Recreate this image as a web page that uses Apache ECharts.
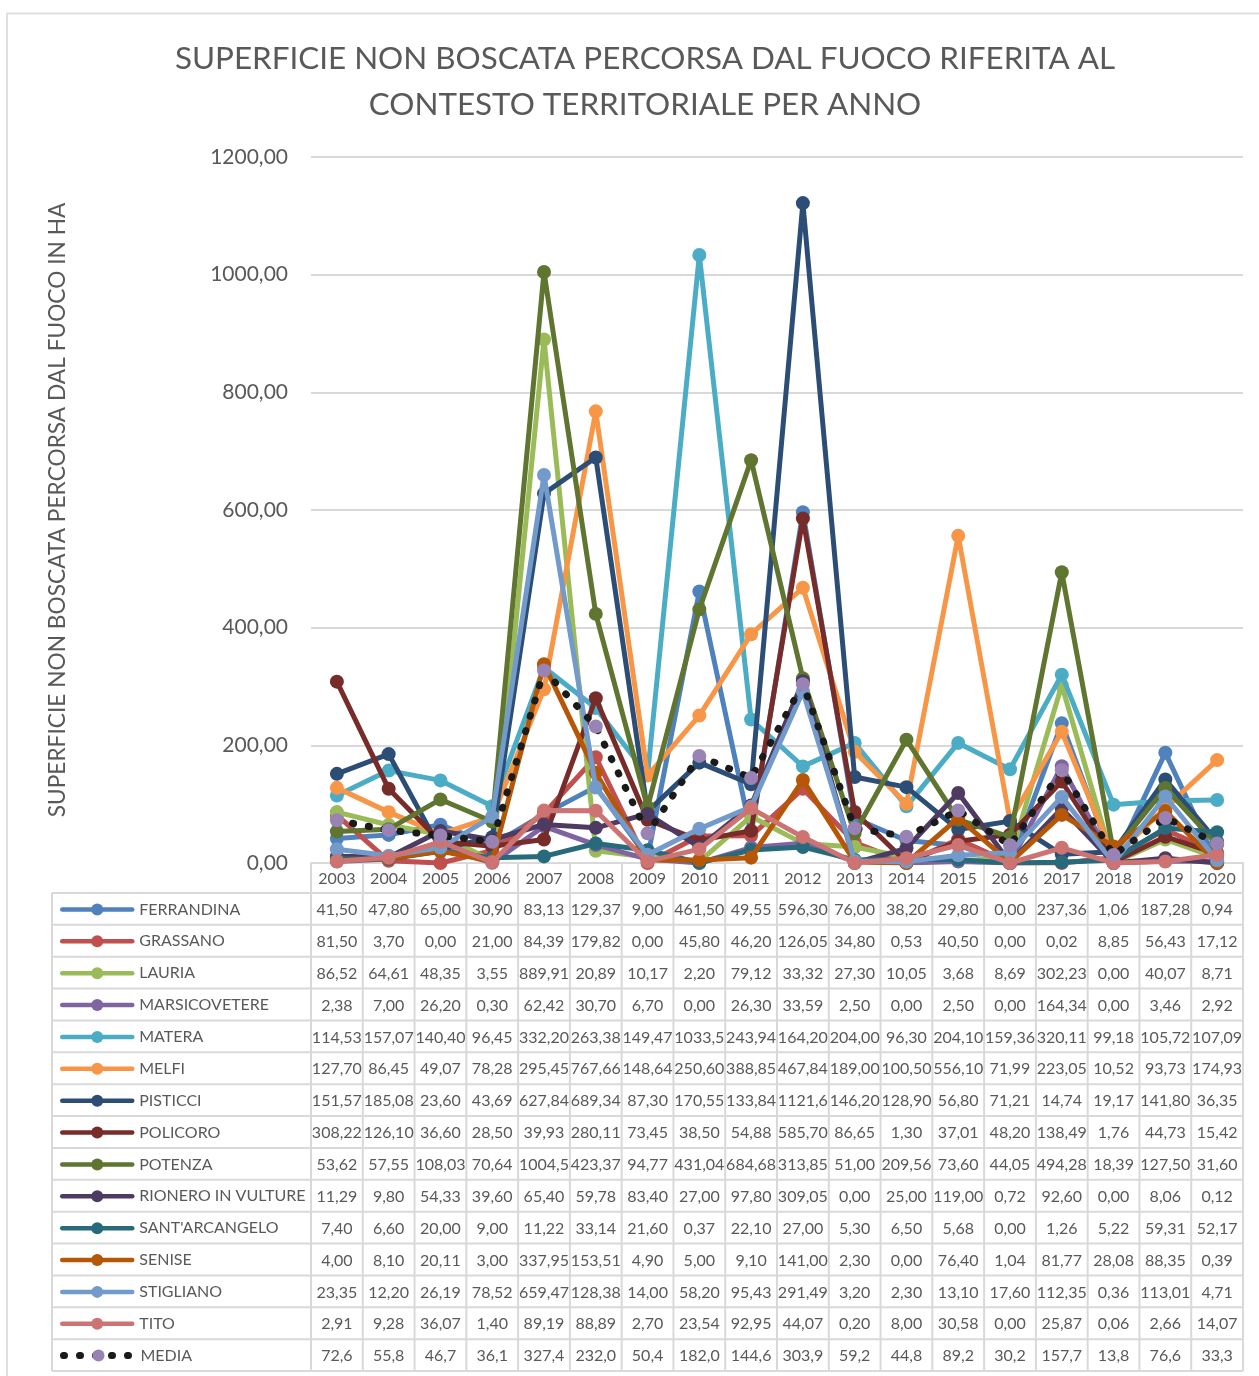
<!DOCTYPE html>
<html>
<head>
<meta charset="utf-8">
<script src="https://cdn.jsdelivr.net/npm/echarts@6/dist/echarts.min.js"></script>
<style>
  html, body { margin: 0; padding: 0; background: #fff; }
  #chart { width: 1259px; height: 1376px; }
</style>
</head>
<body>
<div id="chart"></div>
<script>
const years = ['2003', '2004', '2005', '2006', '2007', '2008', '2009', '2010', '2011',
    '2012', '2013', '2014', '2015', '2016', '2017', '2018', '2019', '2020'];

const ferrandina = [41.50, 47.80, 65.00, 30.90, 83.13, 129.37, 9.00, 461.50, 49.55, 596.30, 76.00, 38.20, 29.80, 0.00, 237.36, 1.06, 187.28, 0.94];
const grassano = [81.50, 3.70, 0.00, 21.00, 84.39, 179.82, 0.00, 45.80, 46.20, 126.05, 34.80, 0.53, 40.50, 0.00, 0.02, 8.85, 56.43, 17.12];
const lauria = [86.52, 64.61, 48.35, 3.55, 889.91, 20.89, 10.17, 2.20, 79.12, 33.32, 27.30, 10.05, 3.68, 8.69, 302.23, 0.00, 40.07, 8.71];
const marsicovetere = [2.38, 7.00, 26.20, 0.30, 62.42, 30.70, 6.70, 0.00, 26.30, 33.59, 2.50, 0.00, 2.50, 0.00, 164.34, 0.00, 3.46, 2.92];
const matera = [114.53, 157.07, 140.40, 96.45, 332.20, 263.38, 149.47, 1033.52, 243.94, 164.20, 204.00, 96.30, 204.10, 159.36, 320.11, 99.18, 105.72, 107.09];
const melfi = [127.70, 86.45, 49.07, 78.28, 295.45, 767.66, 148.64, 250.60, 388.85, 467.84, 189.00, 100.50, 556.10, 71.99, 223.05, 10.52, 93.73, 174.93];
const pisticci = [151.57, 185.08, 23.60, 43.69, 627.84, 689.34, 87.30, 170.55, 133.84, 1121.63, 146.20, 128.90, 56.80, 71.21, 14.74, 19.17, 141.80, 36.35];
const policoro = [308.22, 126.10, 36.60, 28.50, 39.93, 280.11, 73.45, 38.50, 54.88, 585.70, 86.65, 1.30, 37.01, 48.20, 138.49, 1.76, 44.73, 15.42];
const potenza = [53.62, 57.55, 108.03, 70.64, 1004.54, 423.37, 94.77, 431.04, 684.68, 313.85, 51.00, 209.56, 73.60, 44.05, 494.28, 18.39, 127.50, 31.60];
const rionero = [11.29, 9.80, 54.33, 39.60, 65.40, 59.78, 83.40, 27.00, 97.80, 309.05, 0.00, 25.00, 119.00, 0.72, 92.60, 0.00, 8.06, 0.12];
const santArcangelo = [7.40, 6.60, 20.00, 9.00, 11.22, 33.14, 21.60, 0.37, 22.10, 27.00, 5.30, 6.50, 5.68, 0.00, 1.26, 5.22, 59.31, 52.17];
const senise = [4.00, 8.10, 20.11, 3.00, 337.95, 153.51, 4.90, 5.00, 9.10, 141.00, 2.30, 0.00, 76.40, 1.04, 81.77, 28.08, 88.35, 0.39];
const stigliano = [23.35, 12.20, 26.19, 78.52, 659.47, 128.38, 14.00, 58.20, 95.43, 291.49, 3.20, 2.30, 13.10, 17.60, 112.35, 0.36, 113.01, 4.71];
const tito = [2.91, 9.28, 36.07, 1.40, 89.19, 88.89, 2.70, 23.54, 92.95, 44.07, 0.20, 8.00, 30.58, 0.00, 25.87, 0.06, 2.66, 14.07];
const media = [72.6, 55.8, 46.7, 36.1, 327.4, 232.0, 50.4, 182.0, 144.6, 303.9, 59.2, 44.8, 89.2, 30.2, 157.7, 13.8, 76.6, 33.3];

const seriesNames = ['FERRANDINA', 'GRASSANO', 'LAURIA', 'MARSICOVETERE', 'MATERA', 'MELFI', 'PISTICCI',
    'POLICORO', 'POTENZA', 'RIONERO IN VULTURE', "SANT'ARCANGELO", 'SENISE', 'STIGLIANO', 'TITO', 'MEDIA'];
const seriesData = [ferrandina, grassano, lauria, marsicovetere, matera, melfi, pisticci,
    policoro, potenza, rionero, santArcangelo, senise, stigliano, tito, media];
const seriesColors = ['#4F81BD', '#C0504D', '#9BBB59', '#8064A2', '#4BACC6', '#F79646', '#2C4D75',
    '#772C2A', '#5F7530', '#4D3B62', '#276A7C', '#B65708', '#729ACA', '#CD7371', '#9983B5'];

const FONT = 'Lato';
const TXT = '#595959';
const BORDER = '#d9d9d9';

// layout of plot area and the data table under it
const gridTop = 157, gridBottomY = 863, gridLeft = 311, gridRight = 16;
const headerH = 30, rowH = 31.87, tableLeft = 52;
const tableTop = gridBottomY + headerH;
const keyH = 15;

// Excel "General" style: long numbers lose a decimal
function fmt(v, dec) {
    if (dec === undefined) dec = v >= 1000 ? 1 : 2;
    return v.toFixed(dec).replace('.', ',');
}

const mediaLine = { color: '#1a1a1a', width: 7, type: [1, 15], cap: 'round' };

const chart = echarts.init(document.getElementById('chart'));

const series = seriesNames.map((name, i) => {
    const isMedia = name === 'MEDIA';
    return {
        name: name,
        type: 'line',
        data: seriesData[i],
        symbol: 'circle',
        symbolSize: 14,
        showAllSymbol: true,
        silent: true,
        emphasis: { disabled: true },
        itemStyle: { color: seriesColors[i] },
        lineStyle: isMedia
            ? mediaLine
            : { color: seriesColors[i], width: 5, cap: 'round', join: 'round' },
        z: 2 + i
    };
});

// one legend per table row so each key sits in its own row
const legends = seriesNames.map((name, r) => ({
    orient: 'vertical',
    left: 60,
    top: tableTop + r * rowH + (rowH - keyH) / 2,
    padding: 0,
    itemWidth: 70,
    itemHeight: keyH,
    selectedMode: false,
    data: [{
        name: name,
        lineStyle: name === 'MEDIA' ? mediaLine : { color: seriesColors[r], width: 4.5, cap: 'round' }
    }],
    textStyle: { fontFamily: FONT, fontSize: 16, color: TXT, padding: [0, 0, 0, 2] }
}));

chart.setOption({
    animation: false,
    textStyle: { fontFamily: FONT },
    title: {
        text: 'SUPERFICIE NON BOSCATA PERCORSA DAL FUOCO RIFERITA AL\nCONTESTO TERRITORIALE PER ANNO',
        left: 640,
        top: 31,
        textAlign: 'center',
        textStyle: { fontFamily: FONT, fontSize: 31.4, fontWeight: 'normal', color: TXT, lineHeight: 46 }
    },
    legend: legends,
    grid: { left: gridLeft, right: gridRight, top: gridTop, bottom: 1376 - gridBottomY },
    xAxis: {
        type: 'category',
        data: years,
        boundaryGap: true,
        axisLine: { lineStyle: { color: BORDER, width: 2 } },
        axisTick: { show: true, interval: 0, length: headerH, lineStyle: { color: BORDER, width: 2 } },
        axisLabel: { interval: 0, margin: 8, fontFamily: FONT, fontSize: 16, color: TXT }
    },
    yAxis: {
        type: 'value',
        min: 0,
        max: 1200,
        interval: 200,
        name: 'SUPERFICIE NON BOSCATA PERCORSA DAL FUOCO IN HA',
        nameLocation: 'middle',
        nameRotate: 90,
        nameGap: 242,
        nameTextStyle: { fontFamily: FONT, fontSize: 22.7, color: TXT },
        axisLine: { show: false },
        axisTick: { show: false },
        axisLabel: { margin: 23, fontFamily: FONT, fontSize: 21, color: TXT, formatter: v => fmt(v, 2) },
        splitLine: { lineStyle: { color: BORDER, width: 2 } }
    },
    series: series
});

// data table, placed on the category axis columns
const x0 = chart.convertToPixel({ xAxisIndex: 0 }, 0);
const colW = chart.convertToPixel({ xAxisIndex: 0 }, 1) - x0;
const tableRight = x0 - colW / 2 + colW * years.length;
const tableBottom = tableTop + rowH * seriesNames.length;

const elements = [];
const hLine = (x1, x2, y) => elements.push({
    type: 'line', silent: true, z: 1,
    shape: { x1: x1, y1: y, x2: x2, y2: y },
    style: { stroke: BORDER, lineWidth: 2 }
});
const vLine = (x, y1, y2) => elements.push({
    type: 'line', silent: true, z: 1,
    shape: { x1: x, y1: y1, x2: x, y2: y2 },
    style: { stroke: BORDER, lineWidth: 2 }
});

for (let r = 0; r <= seriesNames.length; r++) {
    hLine(tableLeft, tableRight, tableTop + r * rowH);
}
vLine(tableLeft, tableTop, tableBottom);
for (let c = 0; c <= years.length; c++) {
    vLine(x0 - colW / 2 + c * colW, tableTop, tableBottom);
}

seriesData.forEach((row, r) => {
    const isMedia = seriesNames[r] === 'MEDIA';
    row.forEach((v, c) => {
        elements.push({
            type: 'text', silent: true, z: 3,
            x: chart.convertToPixel({ xAxisIndex: 0 }, c),
            y: tableTop + r * rowH + rowH / 2 + 1,
            style: {
                text: isMedia ? fmt(v, 1) : fmt(v),
                fill: TXT,
                fontFamily: FONT,
                fontSize: 16,
                align: 'center',
                verticalAlign: 'middle'
            }
        });
    });
});

// outer chart frame
elements.push({
    type: 'rect', silent: true, z: 0,
    shape: { x: 7, y: 13.5, width: 1400, height: 1500 },
    style: { fill: 'none', stroke: '#e0e0e0', lineWidth: 2 }
});

chart.setOption({ graphic: elements });

window.addEventListener('resize', () => chart.resize(), false);
</script>
</body>
</html>
